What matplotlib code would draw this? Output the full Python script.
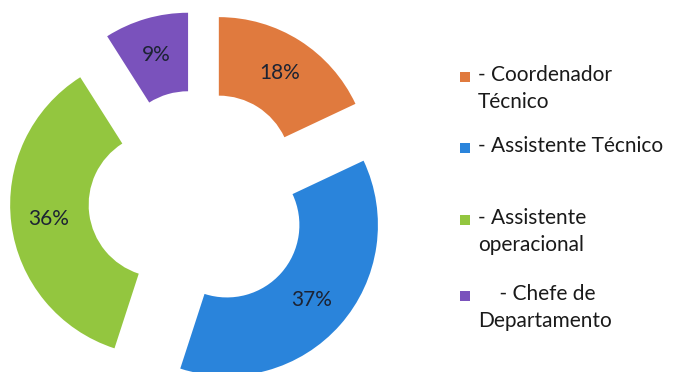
import matplotlib.pyplot as plt
from matplotlib.patches import Rectangle

categories = ["- Coordenador\nTécnico", "- Assistente Técnico",
              "- Assistente\noperacional", "    - Chefe de\nDepartamento"]
values = [18, 37, 36, 9]
colors = ["#E07A3E", "#2A84DB", "#93C63F", "#7A52BC"]

W, H = 679, 372
fig = plt.figure(figsize=(W / 100, H / 100), dpi=100)
ax = fig.add_axes([0, 0, 1, 1])

R = 151.0      # outer radius in px
cx, cy = 198.6, 200.0   # centre, px from left / top

wedges, texts, autotexts = ax.pie(
    values, colors=colors, startangle=90, counterclock=False,
    explode=[0.25] * len(values), radius=1.0, pctdistance=0.75,
    autopct=lambda p: f"{p:.0f}%",
    wedgeprops=dict(width=0.52, linewidth=0),
    textprops=dict(fontsize=15, color="#1c2333", family="Lato"),
)
ax.set_xlim(-cx / R, (W - cx) / R)
ax.set_ylim(-(H - cy) / R, cy / R)
ax.set_aspect("equal")
ax.axis("off")

# legend drawn by hand so the marker sits on the first line like the original
legend_y = [77, 148, 220, 296]
for label, col, y in zip(categories, colors, legend_y):
    fig.add_artist(Rectangle(((460) / W, 1 - (y + 5) / H), 10 / W, 10 / H,
                             transform=fig.transFigure, color=col, lw=0))
    fig.text(478 / W, 1 - (y - 12) / H, label, ha="left", va="top",
             fontsize=15, family="Lato", color="#1a1a1a", linespacing=1.45)

fig.savefig("out.png", dpi=100)
